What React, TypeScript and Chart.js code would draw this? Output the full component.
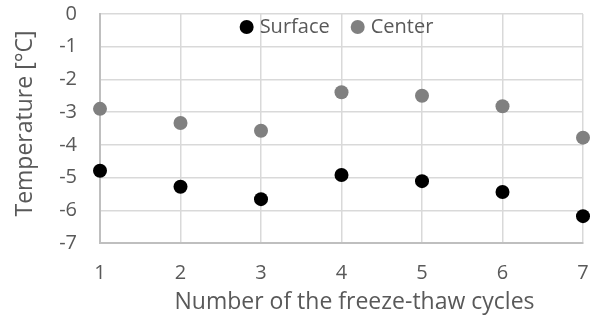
import React, { useEffect, useRef } from "react";
import { Chart, registerables } from "chart.js";

Chart.register(...registerables);

// Freeze-thaw cycle number on the x axis
const cycles = [1, 2, 3, 4, 5, 6, 7];
// Minimum temperature reached at the specimen surface [°C]
const surfaceTemps = [-4.79, -5.28, -5.66, -4.92, -5.11, -5.44, -6.18];
// Minimum temperature reached at the specimen center [°C]
const centerTemps = [-2.9, -3.33, -3.57, -2.39, -2.5, -2.82, -3.78];

const seriesNames = ["Surface", "Center"];
const seriesColors = ["#000000", "#808080"];

const xTitle = "Number of the freeze-thaw cycles";
const yTitle = "Temperature [°C]";

const FONT = "'Open Sans', sans-serif";
const FONT_SIZE = 20;
const TITLE_SIZE = 23;
const TEXT = "#595959";

// Legend over the top of the plot area and the two axis titles
const annotations = {
  id: "annotations",
  afterDraw(chart: any) {
    const { ctx, chartArea } = chart;
    const r = 7;
    const gapMarker = 6;
    const gapItem = 21;
    ctx.save();
    ctx.font = `${FONT_SIZE}px ${FONT}`;
    ctx.textBaseline = "middle";
    ctx.textAlign = "left";
    const items = chart.data.datasets.map((d: any) => ({
      label: d.label,
      color: d.backgroundColor,
      w: 2 * r + gapMarker + ctx.measureText(d.label).width,
    }));
    const total = items.reduce((s: number, it: any) => s + it.w, 0) + gapItem * (items.length - 1);
    const cx = (chartArea.left + chartArea.right) / 2 - 5;
    const y = chartArea.top + 13;
    let x = cx - total / 2;
    for (const it of items) {
      ctx.fillStyle = it.color;
      ctx.beginPath();
      ctx.arc(x + r, y, r, 0, Math.PI * 2);
      ctx.fill();
      ctx.fillStyle = TEXT;
      ctx.fillText(it.label, x + 2 * r + gapMarker, y);
      x += it.w + gapItem;
    }

    // axis titles
    ctx.font = `${TITLE_SIZE}px ${FONT}`;
    ctx.fillStyle = TEXT;
    ctx.textAlign = "center";
    ctx.textBaseline = "middle";
    ctx.fillText(xTitle, (chartArea.left + chartArea.right) / 2 + 13, chartArea.bottom + 59);
    ctx.translate(25, (chartArea.top + chartArea.bottom) / 2 - 5);
    ctx.rotate(-Math.PI / 2);
    ctx.fillText(yTitle, 0, 0);
    ctx.restore();
  },
};

export default function App() {
  const canvasRef = useRef<HTMLCanvasElement | null>(null);

  useEffect(() => {
    document.body.style.margin = "0";
    const canvas = canvasRef.current;
    if (!canvas) return;
    const series = [surfaceTemps, centerTemps];
    const chart = new Chart(canvas, {
      type: "scatter",
      data: {
        datasets: series.map((vals, i) => ({
          label: seriesNames[i],
          data: cycles.map((c, j) => ({ x: c, y: vals[j] })),
          backgroundColor: seriesColors[i],
          borderColor: seriesColors[i],
          borderWidth: 0,
          pointRadius: 7,
          pointHoverRadius: 7,
          clip: false,
        })),
      },
      options: {
        animation: false,
        responsive: false,
        maintainAspectRatio: false,
        layout: { padding: { top: 14, right: 7, bottom: 0, left: 0 } },
        plugins: {
          legend: { display: false },
          tooltip: { enabled: false },
        },
        scales: {
          x: {
            type: "linear",
            min: 1,
            max: 7,
            afterFit: (s: any) => {
              s.height = 77;
              s.paddingLeft = 0;
              s.paddingRight = 0;
            },
            ticks: {
              stepSize: 1,
              padding: 18,
              color: TEXT,
              font: { family: FONT, size: FONT_SIZE },
            },
            grid: { color: "#d9d9d9", lineWidth: 1.5, drawTicks: false },
            border: { color: "#bfbfbf", width: 2 },
          },
          y: {
            min: -7,
            max: 0,
            afterFit: (s: any) => {
              s.width = 100;
              s.paddingTop = 0;
              s.paddingBottom = 0;
            },
            ticks: {
              stepSize: 1,
              padding: 23,
              color: TEXT,
              font: { family: FONT, size: FONT_SIZE },
            },
            grid: { color: "#d9d9d9", lineWidth: 1.5, drawTicks: false },
            border: { color: "#bfbfbf", width: 2 },
          },
        },
      },
      plugins: [annotations],
    });
    return () => chart.destroy();
  }, []);

  return (
    <div style={{ position: "relative", width: 590, height: 320, background: "#fff" }}>
      <canvas ref={canvasRef} width={590} height={320} style={{ display: "block" }} />
    </div>
  );
}
